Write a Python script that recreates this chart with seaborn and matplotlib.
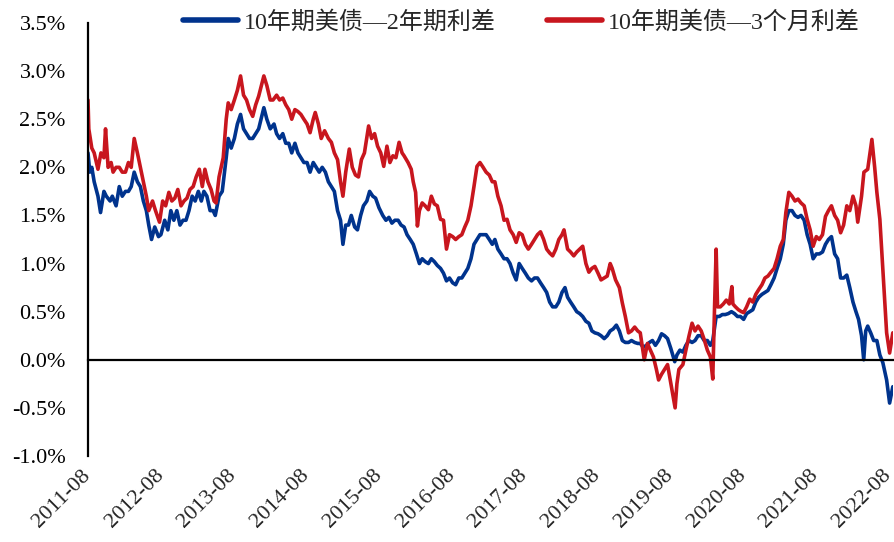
import matplotlib
matplotlib.use("Agg")
import matplotlib.pyplot as plt
import matplotlib.dates as mdates
from matplotlib.ticker import FuncFormatter, MultipleLocator
import seaborn as sns
import pandas as pd

# ---------------- data (values in %) ----------------
name_2y = "10年期美债—2年期利差"
name_3m = "10年期美债—3个月利差"

dates_2y = [
    "2011-08-01", "2011-08-10", "2011-08-20", "2011-09-01", "2011-09-20", "2011-10-03", "2011-10-20",
    "2011-11-01", "2011-11-20", "2011-12-01", "2011-12-20", "2012-01-05", "2012-01-20", "2012-02-05",
    "2012-02-20", "2012-03-05", "2012-03-20", "2012-04-05", "2012-04-20", "2012-05-05", "2012-05-20",
    "2012-06-01", "2012-06-15", "2012-07-01", "2012-07-20", "2012-08-01", "2012-08-20", "2012-09-05",
    "2012-09-20", "2012-10-05", "2012-10-20", "2012-11-05", "2012-11-20", "2012-12-05", "2012-12-20",
    "2013-01-05", "2013-01-20", "2013-02-05", "2013-02-20", "2013-03-05", "2013-03-20", "2013-04-05",
    "2013-04-20", "2013-05-01", "2013-05-20", "2013-06-05", "2013-06-25", "2013-07-05", "2013-07-20",
    "2013-08-05", "2013-08-20", "2013-09-05", "2013-09-20", "2013-10-05", "2013-10-20", "2013-11-05",
    "2013-11-20", "2013-12-05", "2013-12-31", "2014-01-15", "2014-02-01", "2014-02-20", "2014-03-05",
    "2014-03-20", "2014-04-05", "2014-04-20", "2014-05-05", "2014-05-20", "2014-06-05", "2014-06-20",
    "2014-07-05", "2014-07-20", "2014-08-05", "2014-08-20", "2014-09-05", "2014-09-20", "2014-10-05",
    "2014-10-20", "2014-11-05", "2014-11-20", "2014-12-05", "2014-12-20", "2015-01-05", "2015-01-20",
    "2015-02-01", "2015-02-15", "2015-03-01", "2015-03-15", "2015-04-01", "2015-04-15", "2015-05-01",
    "2015-05-15", "2015-06-01", "2015-06-15", "2015-07-01", "2015-07-15", "2015-08-01", "2015-08-20",
    "2015-09-05", "2015-09-20", "2015-10-05", "2015-10-20", "2015-11-05", "2015-11-20", "2015-12-05",
    "2015-12-20", "2016-01-05", "2016-01-20", "2016-02-05", "2016-02-20", "2016-03-05", "2016-03-20",
    "2016-04-05", "2016-04-20", "2016-05-05", "2016-05-20", "2016-06-05", "2016-06-20", "2016-07-05",
    "2016-07-20", "2016-08-05", "2016-08-20", "2016-09-05", "2016-09-20", "2016-10-05", "2016-10-20",
    "2016-11-05", "2016-11-20", "2016-12-05", "2016-12-20", "2017-01-05", "2017-01-20", "2017-02-05",
    "2017-02-20", "2017-03-05", "2017-03-20", "2017-04-05", "2017-04-20", "2017-05-05", "2017-05-20",
    "2017-06-05", "2017-06-20", "2017-07-05", "2017-07-20", "2017-08-05", "2017-08-20", "2017-09-05",
    "2017-09-20", "2017-10-05", "2017-10-20", "2017-11-05", "2017-11-20", "2017-12-05", "2017-12-20",
    "2018-01-05", "2018-01-20", "2018-02-05", "2018-02-20", "2018-03-05", "2018-03-20", "2018-04-05",
    "2018-04-20", "2018-05-05", "2018-05-20", "2018-06-05", "2018-06-20", "2018-07-05", "2018-07-20",
    "2018-08-05", "2018-08-20", "2018-09-05", "2018-09-20", "2018-10-05", "2018-10-20", "2018-11-05",
    "2018-11-20", "2018-12-05", "2018-12-20", "2019-01-05", "2019-01-20", "2019-02-05", "2019-02-20",
    "2019-03-05", "2019-03-20", "2019-04-05", "2019-04-20", "2019-05-05", "2019-05-20", "2019-06-05",
    "2019-06-20", "2019-07-05", "2019-07-20", "2019-08-05", "2019-08-25", "2019-09-05", "2019-09-20",
    "2019-10-05", "2019-10-20", "2019-11-05", "2019-11-20", "2019-12-05", "2019-12-20", "2020-01-05",
    "2020-01-20", "2020-02-05", "2020-02-20", "2020-03-03", "2020-03-20", "2020-04-05", "2020-04-20",
    "2020-05-05", "2020-05-20", "2020-06-05", "2020-06-20", "2020-07-05", "2020-07-20", "2020-08-05",
    "2020-08-20", "2020-09-05", "2020-09-20", "2020-10-05", "2020-10-20", "2020-11-05", "2020-11-20",
    "2020-12-05", "2020-12-20", "2021-01-05", "2021-01-20", "2021-02-05", "2021-02-20", "2021-03-05",
    "2021-03-20", "2021-04-05", "2021-04-20", "2021-05-05", "2021-05-20", "2021-06-05", "2021-06-20",
    "2021-07-05", "2021-07-20", "2021-08-05", "2021-08-20", "2021-09-05", "2021-09-20", "2021-10-05",
    "2021-10-20", "2021-11-05", "2021-11-20", "2021-12-05", "2021-12-20", "2022-01-05", "2022-01-20",
    "2022-02-05", "2022-02-20", "2022-03-05", "2022-03-20", "2022-03-31", "2022-04-10", "2022-04-20",
    "2022-05-05", "2022-05-20", "2022-06-05", "2022-06-20", "2022-07-05", "2022-07-24", "2022-08-08",
    "2022-08-24",
]
values_2y = [
    2.15, 1.95, 2.00, 1.85, 1.70, 1.53, 1.75,
    1.70, 1.65, 1.70, 1.60, 1.80, 1.70, 1.75,
    1.75, 1.80, 1.95, 1.85, 1.80, 1.65, 1.55,
    1.40, 1.25, 1.38, 1.28, 1.30, 1.45, 1.35,
    1.55, 1.45, 1.55, 1.40, 1.45, 1.45, 1.55,
    1.70, 1.65, 1.75, 1.65, 1.75, 1.70, 1.55,
    1.55, 1.50, 1.70, 1.75, 2.10, 2.30, 2.20,
    2.30, 2.45, 2.55, 2.40, 2.35, 2.30, 2.30,
    2.35, 2.40, 2.62, 2.50, 2.40, 2.45, 2.35,
    2.30, 2.35, 2.25, 2.25, 2.15, 2.25, 2.15,
    2.10, 2.05, 2.05, 1.95, 2.05, 2.00, 1.95,
    2.00, 1.95, 1.85, 1.80, 1.75, 1.55, 1.45,
    1.20, 1.40, 1.40, 1.50, 1.38, 1.35, 1.50,
    1.60, 1.65, 1.75, 1.70, 1.68, 1.58, 1.50,
    1.45, 1.48, 1.42, 1.45, 1.45, 1.40, 1.38,
    1.30, 1.25, 1.20, 1.10, 1.00, 1.05, 1.02,
    1.00, 1.05, 1.02, 0.98, 0.95, 0.90, 0.82,
    0.85, 0.80, 0.78, 0.85, 0.85, 0.90, 0.95,
    1.05, 1.20, 1.25, 1.30, 1.30, 1.30, 1.25,
    1.20, 1.25, 1.15, 1.10, 1.05, 1.05, 1.00,
    0.90, 0.83, 1.00, 0.95, 0.90, 0.85, 0.82,
    0.85, 0.85, 0.80, 0.75, 0.70, 0.60, 0.55,
    0.55, 0.60, 0.70, 0.75, 0.65, 0.60, 0.55,
    0.50, 0.48, 0.45, 0.40, 0.38, 0.30, 0.28,
    0.27, 0.25, 0.22, 0.25, 0.30, 0.32, 0.36,
    0.30, 0.20, 0.18, 0.18, 0.20, 0.18, 0.17,
    0.17, 0.13, 0.15, 0.18, 0.20, 0.15, 0.20,
    0.27, 0.25, 0.22, 0.12, -0.02, 0.05, 0.10,
    0.08, 0.15, 0.20, 0.18, 0.20, 0.25, 0.25,
    0.20, 0.20, 0.15, 0.20, 0.45, 0.45, 0.47,
    0.47, 0.48, 0.50, 0.48, 0.45, 0.45, 0.42,
    0.48, 0.50, 0.52, 0.60, 0.65, 0.68, 0.70,
    0.72, 0.78, 0.85, 0.95, 1.05, 1.20, 1.45,
    1.55, 1.55, 1.50, 1.48, 1.50, 1.45, 1.30,
    1.20, 1.05, 1.10, 1.10, 1.12, 1.20, 1.25,
    1.28, 1.10, 1.05, 0.85, 0.85, 0.88, 0.75,
    0.60, 0.50, 0.42, 0.25, 0.00, 0.30, 0.35,
    0.28, 0.20, 0.20, 0.05, -0.03, -0.21, -0.45,
    -0.28,
]

dates_3m = [
    "2011-08-01", "2011-08-05", "2011-08-20", "2011-09-01", "2011-09-20", "2011-10-05", "2011-10-20",
    "2011-10-28", "2011-11-10", "2011-11-25", "2011-12-05", "2011-12-20", "2012-01-05", "2012-01-20",
    "2012-02-05", "2012-02-20", "2012-03-05", "2012-03-20", "2012-04-05", "2012-04-20", "2012-05-05",
    "2012-05-20", "2012-06-01", "2012-06-20", "2012-07-05", "2012-07-25", "2012-08-10", "2012-08-25",
    "2012-09-10", "2012-09-25", "2012-10-10", "2012-10-25", "2012-11-10", "2012-11-25", "2012-12-10",
    "2012-12-25", "2013-01-10", "2013-01-25", "2013-02-10", "2013-02-25", "2013-03-10", "2013-03-25",
    "2013-04-10", "2013-04-25", "2013-05-05", "2013-05-20", "2013-06-10", "2013-06-25", "2013-07-05",
    "2013-07-20", "2013-08-05", "2013-08-20", "2013-09-05", "2013-09-20", "2013-10-05", "2013-10-20",
    "2013-11-05", "2013-11-20", "2013-12-05", "2013-12-31", "2014-01-15", "2014-02-01", "2014-02-15",
    "2014-03-05", "2014-03-20", "2014-04-05", "2014-04-20", "2014-05-05", "2014-05-20", "2014-06-05",
    "2014-06-20", "2014-07-05", "2014-07-20", "2014-08-05", "2014-08-20", "2014-09-05", "2014-09-15",
    "2014-10-01", "2014-10-15", "2014-11-01", "2014-11-20", "2014-12-05", "2014-12-20", "2015-01-05",
    "2015-01-20", "2015-02-01", "2015-02-15", "2015-03-05", "2015-03-20", "2015-04-05", "2015-04-20",
    "2015-05-05", "2015-05-20", "2015-06-10", "2015-06-25", "2015-07-10", "2015-07-25", "2015-08-10",
    "2015-08-25", "2015-09-10", "2015-09-25", "2015-10-10", "2015-10-25", "2015-11-10", "2015-11-25",
    "2015-12-05", "2015-12-25", "2016-01-10", "2016-01-20", "2016-02-01", "2016-02-10", "2016-02-20",
    "2016-03-05", "2016-03-20", "2016-04-05", "2016-04-20", "2016-05-05", "2016-05-20", "2016-06-05",
    "2016-06-20", "2016-07-05", "2016-07-20", "2016-08-05", "2016-08-20", "2016-09-05", "2016-09-20",
    "2016-10-05", "2016-10-20", "2016-11-05", "2016-11-20", "2016-12-05", "2016-12-20", "2017-01-05",
    "2017-01-20", "2017-02-05", "2017-02-20", "2017-03-05", "2017-03-20", "2017-04-05", "2017-04-20",
    "2017-05-05", "2017-05-20", "2017-06-05", "2017-06-20", "2017-07-05", "2017-07-20", "2017-08-05",
    "2017-08-20", "2017-09-05", "2017-09-20", "2017-10-05", "2017-10-20", "2017-11-05", "2017-11-20",
    "2017-12-05", "2017-12-20", "2018-01-05", "2018-01-20", "2018-02-05", "2018-02-15", "2018-03-05",
    "2018-03-20", "2018-04-05", "2018-04-20", "2018-05-05", "2018-05-20", "2018-06-05", "2018-06-20",
    "2018-07-05", "2018-07-20", "2018-08-05", "2018-08-20", "2018-09-05", "2018-09-20", "2018-10-05",
    "2018-10-15", "2018-11-01", "2018-11-20", "2018-12-05", "2018-12-20", "2019-01-05", "2019-01-20",
    "2019-02-05", "2019-02-20", "2019-03-05", "2019-03-25", "2019-04-10", "2019-04-25", "2019-05-10",
    "2019-05-25", "2019-06-05", "2019-06-20", "2019-07-05", "2019-07-20", "2019-08-10", "2019-08-27",
    "2019-09-05", "2019-09-15", "2019-10-05", "2019-10-20", "2019-11-05", "2019-11-20", "2019-12-05",
    "2019-12-20", "2020-01-05", "2020-01-20", "2020-02-05", "2020-02-20", "2020-03-03", "2020-03-12",
    "2020-03-20", "2020-03-27", "2020-04-10", "2020-04-25", "2020-05-10", "2020-05-25", "2020-06-07",
    "2020-06-12", "2020-06-25", "2020-07-10", "2020-07-25", "2020-08-05", "2020-08-20", "2020-09-05",
    "2020-09-20", "2020-10-05", "2020-10-20", "2020-11-05", "2020-11-20", "2020-12-05", "2020-12-20",
    "2021-01-05", "2021-01-20", "2021-02-05", "2021-02-20", "2021-03-05", "2021-03-20", "2021-04-05",
    "2021-04-20", "2021-05-05", "2021-05-20", "2021-06-05", "2021-06-20", "2021-07-05", "2021-07-20",
    "2021-08-05", "2021-08-20", "2021-09-05", "2021-09-20", "2021-10-05", "2021-10-20", "2021-11-05",
    "2021-11-20", "2021-12-05", "2021-12-20", "2022-01-05", "2022-01-20", "2022-02-05", "2022-02-20",
    "2022-03-01", "2022-03-20", "2022-04-01", "2022-04-20", "2022-05-11", "2022-05-25", "2022-06-05",
    "2022-06-20", "2022-07-05", "2022-07-24", "2022-08-08", "2022-08-24",
]
values_3m = [
    2.70, 2.40, 2.20, 2.15, 1.98, 2.15, 2.10,
    2.40, 2.00, 2.05, 1.95, 2.00, 2.00, 1.95,
    1.95, 2.05, 2.00, 2.30, 2.15, 2.00, 1.85,
    1.70, 1.55, 1.65, 1.55, 1.43, 1.65, 1.60,
    1.74, 1.65, 1.68, 1.77, 1.60, 1.65, 1.68,
    1.77, 1.80, 1.90, 1.98, 1.80, 1.98, 1.85,
    1.77, 1.65, 1.63, 1.90, 2.10, 2.50, 2.67,
    2.60, 2.70, 2.80, 2.95, 2.75, 2.70, 2.60,
    2.53, 2.65, 2.74, 2.95, 2.85, 2.70, 2.70,
    2.75, 2.70, 2.72, 2.65, 2.60, 2.50, 2.60,
    2.58, 2.55, 2.50, 2.45, 2.36, 2.50, 2.57,
    2.45, 2.30, 2.38, 2.30, 2.26, 2.15, 2.08,
    1.85, 1.70, 1.95, 2.19, 2.00, 1.92, 1.90,
    2.08, 2.15, 2.43, 2.30, 2.35, 2.22, 2.15,
    2.01, 2.22, 2.05, 2.12, 2.10, 2.26, 2.15,
    2.12, 2.05, 1.98, 1.85, 1.74, 1.39, 1.55,
    1.63, 1.60, 1.56, 1.70, 1.62, 1.60, 1.46,
    1.45, 1.15, 1.30, 1.28, 1.25, 1.28, 1.30,
    1.38, 1.45, 1.60, 1.80, 2.01, 2.05, 2.00,
    1.95, 1.92, 1.85, 1.85, 1.70, 1.60, 1.45,
    1.46, 1.35, 1.30, 1.22, 1.32, 1.30, 1.20,
    1.15, 1.20, 1.25, 1.30, 1.33, 1.25, 1.15,
    1.11, 1.08, 1.15, 1.25, 1.30, 1.35, 1.15,
    1.12, 1.08, 1.12, 1.15, 1.18, 1.00, 0.91,
    0.95, 0.97, 0.90, 0.83, 0.85, 0.87, 1.00,
    0.95, 0.83, 0.75, 0.59, 0.45, 0.28, 0.30,
    0.34, 0.30, 0.28, 0.00, 0.17, 0.10, 0.03,
    -0.10, -0.21, -0.15, -0.10, -0.05, -0.30, -0.50,
    -0.25, -0.10, -0.05, 0.10, 0.25, 0.38, 0.30,
    0.35, 0.30, 0.21, 0.10, 0.03, -0.20, 0.55,
    1.15, 0.55, 0.55, 0.58, 0.62, 0.58, 0.76,
    0.58, 0.55, 0.52, 0.50, 0.49, 0.55, 0.63,
    0.60, 0.68, 0.73, 0.78, 0.85, 0.87, 0.91,
    0.95, 1.05, 1.18, 1.25, 1.53, 1.74, 1.70,
    1.65, 1.67, 1.63, 1.60, 1.46, 1.35, 1.18,
    1.28, 1.25, 1.30, 1.49, 1.55, 1.60, 1.50,
    1.45, 1.32, 1.40, 1.60, 1.55, 1.70, 1.60,
    1.43, 1.70, 1.95, 1.98, 2.29, 2.00, 1.74,
    1.46, 0.94, 0.28, 0.07, 0.28,
]

year_ticks = ["2011-08-01", "2012-08-01", "2013-08-01", "2014-08-01", "2015-08-01", "2016-08-01",
              "2017-08-01", "2018-08-01", "2019-08-01", "2020-08-01", "2021-08-01", "2022-08-01"]

# ---------------- build table ----------------
df = pd.concat([
    pd.DataFrame({"date": pd.to_datetime(dates_2y), "value": values_2y, "series": name_2y}),
    pd.DataFrame({"date": pd.to_datetime(dates_3m), "value": values_3m, "series": name_3m}),
], ignore_index=True)

sns.set_style("white")
plt.rcParams["font.family"] = ["Liberation Serif", "Noto Sans CJK SC"]
plt.rcParams["axes.unicode_minus"] = False

fig = plt.figure(figsize=(8.94, 5.42), dpi=100)
ax = fig.add_axes([88 / 894, 1 - 456 / 542, (893 - 88) / 894, (456 - 23) / 542])

palette = {name_2y: "#00338D", name_3m: "#C8161E"}
sns.lineplot(data=df, x="date", y="value", hue="series", hue_order=[name_2y, name_3m],
             palette=palette, linewidth=2.6, estimator=None, sort=False, ax=ax)

ax.set_ylim(-1.0, 3.5)
ax.yaxis.set_major_locator(MultipleLocator(0.5))
ax.yaxis.set_major_formatter(FuncFormatter(lambda v, p: f"{v:.1f}%"))
ax.set_xlim(pd.Timestamp("2011-08-01"), pd.Timestamp("2022-08-25"))
ticks = pd.to_datetime(year_ticks)
ax.set_xticks(ticks)
ax.set_xlabel("")
ax.set_ylabel("")

for s in ["top", "right"]:
    ax.spines[s].set_visible(False)
ax.spines["left"].set_color("black")
ax.spines["left"].set_linewidth(1.6)
ax.spines["bottom"].set_position(("data", 0))
ax.spines["bottom"].set_color("black")
ax.spines["bottom"].set_linewidth(1.6)
ax.tick_params(axis="y", direction="out", length=6, width=1.4, colors="black", labelsize=16, pad=10)
ax.tick_params(axis="x", direction="out", length=6, width=1.4, colors="black", labelbottom=False)

sec = ax.secondary_xaxis("bottom")
sec.set_xticks(ticks)
sec.xaxis.set_major_formatter(mdates.DateFormatter("%Y-%m"))
sec.spines["bottom"].set_visible(False)
sec.tick_params(axis="x", length=0, labelsize=16, pad=12)
for lab in sec.get_xticklabels():
    lab.set_rotation(45)
    lab.set_ha("right")
    lab.set_va("center")
    lab.set_rotation_mode("anchor")

ax.legend(loc="center left", bbox_to_anchor=(183 / 894, 1 - 22 / 542), bbox_transform=fig.transFigure,
          ncol=2, frameon=False, fontsize=17.3, handlelength=2.3, handletextpad=0.25,
          columnspacing=2.1, borderaxespad=0, borderpad=0)
for line in ax.get_legend().get_lines():
    line.set_linewidth(4)

fig.savefig("out.png", dpi=100)
